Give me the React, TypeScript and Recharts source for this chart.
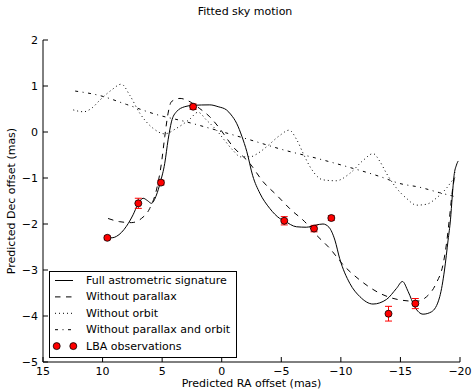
import { ComposedChart, Line, Scatter, ErrorBar, XAxis, YAxis, Legend } from "recharts";

const X_TICKS = [15, 10, 5, 0, -5, -10, -15, -20];
const Y_TICKS = [2, 1, 0, -1, -2, -3, -4, -5];

// [RA, Dec] pairs
const FULL_SIGNATURE: [number, number][] = [
  [9.6, -2.3], [9.2, -2.3], [8.84, -2.27], [8.4, -2.18], [8.0, -2.05], [7.44, -1.8], [7.03, -1.57],
  [6.6, -1.44], [6.24, -1.49], [5.9, -1.55], [5.48, -1.37], [5.15, -1.09], [4.78, -0.68], [4.5, -0.17],
  [4.22, 0.22], [3.8, 0.44], [3.1, 0.55], [2.4, 0.58], [1.0, 0.59], [0.3, 0.55], [-0.4, 0.48],
  [-0.8, 0.37], [-1.25, 0.19], [-1.7, -0.1], [-2.1, -0.42], [-2.6, -0.95], [-3.2, -1.33], [-4.03, -1.66],
  [-4.87, -1.88], [-5.3, -1.94], [-6.27, -2.06], [-7.1, -2.07], [-7.95, -2.02], [-8.5, -2.0],
  [-9.0, -2.07], [-9.5, -2.35], [-9.9, -2.75], [-10.75, -3.29], [-11.6, -3.58], [-12.7, -3.74],
  [-13.83, -3.64], [-14.67, -3.4], [-15.17, -3.25], [-15.65, -3.47], [-16.2, -3.8], [-16.9, -3.96],
  [-17.6, -3.91], [-18.3, -3.58], [-18.7, -3.0], [-19.0, -2.35], [-19.2, -1.91], [-19.35, -1.4],
  [-19.5, -0.95], [-19.7, -0.72], [-19.85, -0.63],
];

const NO_PARALLAX: [number, number][] = [
  [9.54, -1.88], [8.56, -1.95], [7.58, -1.97], [6.74, -1.88], [6.04, -1.66], [5.48, -1.26],
  [5.06, -0.68], [4.78, -0.1], [4.5, 0.41], [4.22, 0.66], [3.5, 0.73], [2.83, 0.68], [1.85, 0.51],
  [1.0, 0.33], [0.3, 0.12], [-0.95, -0.32], [-2.35, -0.68], [-3.47, -1.08], [-4.6, -1.37],
  [-5.85, -1.7], [-6.97, -1.95], [-7.95, -2.24], [-9.07, -2.53], [-10.2, -2.89], [-11.6, -3.22],
  [-13.3, -3.51], [-14.95, -3.65], [-16.35, -3.68], [-17.2, -3.58], [-18.0, -3.29], [-18.6, -2.85],
  [-18.87, -2.42], [-19.1, -1.91], [-19.37, -1.26], [-19.5, -1.04], [-19.6, -0.88],
];

const NO_ORBIT: [number, number][] = [
  [12.46, 0.48], [11.6, 0.44], [10.9, 0.52], [10.2, 0.7], [9.26, 0.91], [8.42, 1.04], [7.72, 0.8],
  [6.88, 0.41], [5.76, 0.08], [4.78, -0.04], [3.8, 0.08], [2.68, 0.28], [1.99, 0.43], [1.28, 0.26],
  [0.44, 0.04], [-0.3, -0.2], [-0.95, -0.4], [-1.6, -0.54], [-2.37, -0.54], [-3.0, -0.47],
  [-3.77, -0.32], [-4.9, -0.07], [-5.66, 0.04], [-6.3, -0.17], [-6.9, -0.5], [-7.4, -0.75],
  [-8.5, -1.04], [-9.6, -1.06], [-10.75, -0.9], [-11.9, -0.61], [-12.7, -0.47], [-13.3, -0.65],
  [-13.83, -0.9], [-14.67, -1.22], [-15.5, -1.44], [-16.35, -1.59], [-17.2, -1.57], [-18.0, -1.44],
  [-18.87, -1.22], [-19.4, -1.04], [-19.7, -0.95],
];

const NO_PARALLAX_ORBIT: [number, number][] = [
  [12.3, 0.89], [10.2, 0.79], [8.0, 0.6], [5.48, 0.38], [2.96, 0.22], [0.44, 0.04], [-2.37, -0.17],
  [-5.2, -0.39], [-7.95, -0.57], [-10.47, -0.75], [-13.3, -0.97], [-14.95, -1.12], [-16.6, -1.2],
  [-18.3, -1.32], [-19.8, -1.42],
];

const LBA_RA = [9.6, 7.0, 5.1, 2.4, -5.25, -7.75, -9.2, -14.0, -16.25];
const LBA_DEC = [-2.3, -1.55, -1.1, 0.55, -1.93, -2.1, -1.87, -3.95, -3.73];
const LBA_ERR = [0.04, 0.11, 0.05, 0.06, 0.09, 0.07, 0.05, 0.16, 0.11];

const LEGEND_LABELS = [
  "Full astrometric signature",
  "Without parallax",
  "Without orbit",
  "Without parallax and orbit",
  "LBA observations",
];
const DASHES = [undefined, "5.5 5.5", "1 3", "3 4.5 1 4.5"];

const FONT = "DejaVu Sans";
const FS = 11;
const toPts = (arr: [number, number][]) => arr.map(([x, y]) => ({ x, y }));
const lba = LBA_RA.map((x, i) => ({ x, y: LBA_DEC[i], err: LBA_ERR[i] }));
const fmt = (v: number) => String(v).replace("-", "\u2212");
const tickStyle = { fill: "#000", fontSize: FS, fontFamily: FONT };

function Dot(props: any) {
  return <circle cx={props.cx} cy={props.cy} r={3.5} fill="#ff0000" stroke="#000" strokeWidth={0.8} />;
}

function YTitle({ viewBox }: any) {
  const cx = 11;
  const cy = viewBox.y + viewBox.height / 2;
  return (
    <text x={cx} y={cy} transform={`rotate(-90 ${cx} ${cy})`} textAnchor="middle" dominantBaseline="central"
      fontSize={FS} fontFamily={FONT} fill="#000">
      Predicted Dec offset (mas)
    </text>
  );
}

function LegendBox() {
  return (
    <svg width={188} height={87} style={{ display: "block" }}>
      <rect x={0.5} y={0.5} width={187} height={86} fill="#fff" stroke="#000" />
      {LEGEND_LABELS.map((label, i) => {
        const cy = 9.5 + i * 16.4;
        return (
          <g key={label}>
            {i < 4 ? (
              <line x1={6} x2={24} y1={cy} y2={cy} stroke="#000" strokeWidth={1} strokeDasharray={DASHES[i]} />
            ) : (
              <>
                <circle cx={7.7} cy={cy} r={3.5} fill="#ff0000" stroke="#000" strokeWidth={0.8} />
                <circle cx={24.3} cy={cy} r={3.5} fill="#ff0000" stroke="#000" strokeWidth={0.8} />
              </>
            )}
            <text x={37} y={cy} dominantBaseline="central" fontSize={FS} fontFamily={FONT} fill="#000">
              {label}
            </text>
          </g>
        );
      })}
    </svg>
  );
}

export default function App() {
  return (
    <div style={{ position: "absolute", left: 0, top: 0, width: 473, height: 392, background: "#fff", fontFamily: FONT }}>
      <div style={{ position: "absolute", top: 5, left: 245, transform: "translateX(-50%)", fontSize: FS, whiteSpace: "nowrap", color: "#000" }}>
        Fitted sky motion
      </div>
      <ComposedChart width={473} height={392} margin={{ top: 40, right: 13, bottom: 0, left: 0 }}>
        <XAxis dataKey="x" type="number" domain={[-20, 15]} reversed ticks={X_TICKS} interval={0}
          tickFormatter={fmt} tick={tickStyle} tickSize={-5} tickMargin={10} height={30}
          axisLine={{ stroke: "#000" }} tickLine={{ stroke: "#000" }}
          label={{ value: "Predicted RA offset (mas)", position: "insideBottom", offset: 5, fill: "#000", fontSize: FS, fontFamily: FONT }} />
        <XAxis xAxisId="top" orientation="top" dataKey="x" type="number" domain={[-20, 15]} reversed ticks={X_TICKS}
          interval={0} tickFormatter={() => ""} tickSize={-5} height={0}
          axisLine={{ stroke: "#000" }} tickLine={{ stroke: "#000" }} />
        <YAxis type="number" domain={[-5, 2]} ticks={Y_TICKS} interval={0} tickFormatter={fmt} tick={tickStyle}
          tickSize={-5} tickMargin={10} width={43} axisLine={{ stroke: "#000" }} tickLine={{ stroke: "#000" }}
          label={<YTitle />} />
        <YAxis yAxisId="right" orientation="right" type="number" domain={[-5, 2]} ticks={Y_TICKS} interval={0}
          tickFormatter={() => ""} tickSize={-5} width={0} axisLine={{ stroke: "#000" }} tickLine={{ stroke: "#000" }} />
        <Line data={toPts(FULL_SIGNATURE)} dataKey="y" type="monotone" stroke="#000" strokeWidth={1} dot={false} isAnimationActive={false} />
        <Line data={toPts(NO_PARALLAX)} dataKey="y" type="monotone" stroke="#000" strokeWidth={1} strokeDasharray={DASHES[1]} dot={false} isAnimationActive={false} />
        <Line data={toPts(NO_ORBIT)} dataKey="y" type="monotone" stroke="#000" strokeWidth={1} strokeDasharray={DASHES[2]} dot={false} isAnimationActive={false} />
        <Line data={toPts(NO_PARALLAX_ORBIT)} dataKey="y" type="monotone" stroke="#000" strokeWidth={1} strokeDasharray={DASHES[3]} dot={false} isAnimationActive={false} />
        <Scatter data={lba} dataKey="y" shape={<Dot />} isAnimationActive={false}>
          <ErrorBar dataKey="err" direction="y" stroke="#ff0000" strokeWidth={1} width={3.5} />
        </Scatter>
        <Legend layout="vertical" align="center" verticalAlign="middle" content={<LegendBox />}
          wrapperStyle={{ left: 49, top: 271, width: 188, height: 87 }} />
      </ComposedChart>
    </div>
  );
}
